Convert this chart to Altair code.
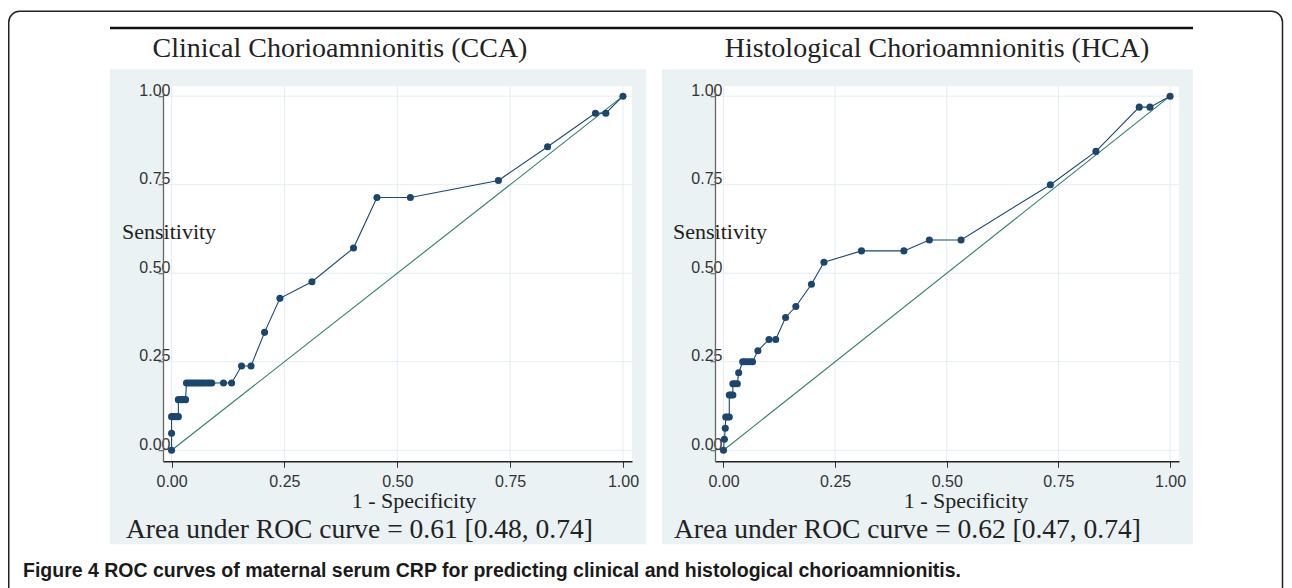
import altair as alt
import pandas as pd

# ---------------- data ----------------
ticks = [0.0, 0.25, 0.5, 0.75, 1.0]
diag = [0.0, 1.0]

cca_fpr = [0.0, 0.0, 0.0, 0.005, 0.010, 0.015, 0.015, 0.020, 0.025, 0.031,
           0.033, 0.038, 0.043, 0.048, 0.053, 0.058, 0.063, 0.068, 0.073, 0.079,
           0.084, 0.089, 0.115, 0.133, 0.155, 0.176, 0.206, 0.240, 0.311, 0.403,
           0.455, 0.529, 0.724, 0.833, 0.939, 0.962, 1.0]
cca_tpr = [0.0, 0.048, 0.095, 0.095, 0.095, 0.095, 0.143, 0.143, 0.143, 0.143,
           0.190, 0.190, 0.190, 0.190, 0.190, 0.190, 0.190, 0.190, 0.190, 0.190,
           0.190, 0.190, 0.190, 0.190, 0.238, 0.238, 0.333, 0.429, 0.476, 0.571,
           0.714, 0.714, 0.762, 0.857, 0.952, 0.952, 1.0]

hca_fpr = [0.0, 0.002, 0.004, 0.005, 0.009, 0.013, 0.013, 0.017, 0.021, 0.021,
           0.026, 0.031, 0.034, 0.043, 0.048, 0.054, 0.060, 0.065, 0.077, 0.102,
           0.117, 0.139, 0.162, 0.197, 0.225, 0.309, 0.404, 0.461, 0.532, 0.732,
           0.834, 0.931, 0.955, 1.0]
hca_tpr = [0.0, 0.031, 0.062, 0.094, 0.094, 0.094, 0.156, 0.156, 0.156, 0.188,
           0.188, 0.188, 0.219, 0.250, 0.250, 0.250, 0.250, 0.250, 0.281, 0.313,
           0.313, 0.375, 0.406, 0.469, 0.531, 0.563, 0.563, 0.594, 0.594, 0.750,
           0.844, 0.969, 0.969, 1.0]

panel_titles = ["Clinical Chorioamnionitis (CCA)", "Histological Chorioamnionitis (HCA)"]
auc_texts = ["Area under ROC curve = 0.61 [0.48, 0.74]",
             "Area under ROC curve = 0.62 [0.47, 0.74]"]
x_title = "1 - Specificity"
y_title = "Sensitivity"
caption = ("Figure 4 ROC curves of maternal serum CRP for predicting "
           "clinical and histological chorioamnionitis.")

# ---------------- style ----------------
SERIF = "Liberation Serif"
SANS = "Liberation Sans"
BG = "#EAF2F4"
GRID = "#E3EDF1"
NAVY = "#1A476F"
GREEN = "#2F7D6D"
XDOM = [-0.019, 1.02]
YDOM = [-0.031, 1.028]
H = 375

xs = alt.Scale(domain=XDOM, nice=False, zero=False)
ys = alt.Scale(domain=YDOM, nice=False, zero=False)

xaxis = alt.Axis(values=ticks, format=".2f", grid=False, title=None, zindex=1,
                 tickSize=6, tickColor="#333", tickWidth=1,
                 domainColor="#222", domainWidth=1.3,
                 labelFont=SANS, labelFontSize=16, labelColor="#333",
                 labelPadding=6, labelFlush=False, labelOverlap=False)
yaxis = alt.Axis(values=ticks, format=".2f", grid=False, title=None, zindex=1,
                 tickSize=5, tickColor="#555", tickWidth=1,
                 domainColor="#666", domainWidth=1.3,
                 labelFont=SANS, labelFontSize=16, labelColor="#333",
                 labelPadding=-12, labelOffset=-6, labelFlush=False,
                 labelOverlap=False)


def one():
    return pd.DataFrame({"k": [0]})


def txt(s, x, y, size, align="left", font=SERIF, weight="normal", color="#222"):
    return alt.Chart(one()).mark_text(
        text=s, font=font, fontSize=size, fontWeight=weight, color=color,
        align=align, baseline="alphabetic"
    ).encode(x=alt.value(x), y=alt.value(y))


def panel(fpr, tpr, title, auc, w, title_x, sens_x, auc_x, extras=()):
    roc = pd.DataFrame({"fpr": fpr, "tpr": tpr, "i": list(range(len(fpr)))})
    tk = pd.DataFrame({"t": ticks})
    dg = pd.DataFrame({"d": diag})

    bg = alt.Chart(one()).mark_rect(color=BG).encode(
        x=alt.value(-53), x2=alt.value(w + 14), y=alt.value(-17), y2=alt.value(H + 83))
    white = alt.Chart(one()).mark_rect(color="white").encode(
        x=alt.value(0), x2=alt.value(w), y=alt.value(0), y2=alt.value(H))
    gx = alt.Chart(tk).mark_rule(color=GRID, strokeWidth=1).encode(
        x=alt.X("t:Q", scale=xs, axis=xaxis), y=alt.value(0), y2=alt.value(H))
    gy = alt.Chart(tk).mark_rule(color=GRID, strokeWidth=1).encode(
        y=alt.Y("t:Q", scale=ys, axis=yaxis), x=alt.value(0), x2=alt.value(w))
    dl = alt.Chart(dg).mark_line(color=GREEN, strokeWidth=1.1).encode(
        x=alt.X("d:Q", scale=xs, axis=xaxis), y=alt.Y("d:Q", scale=ys, axis=yaxis))
    line = alt.Chart(roc).mark_line(color=NAVY, strokeWidth=1.1).encode(
        x=alt.X("fpr:Q", scale=xs, axis=xaxis), y=alt.Y("tpr:Q", scale=ys, axis=yaxis),
        order="i:Q")
    pts = alt.Chart(roc).mark_circle(color=NAVY, size=50, opacity=1).encode(
        x=alt.X("fpr:Q", scale=xs, axis=xaxis), y=alt.Y("tpr:Q", scale=ys, axis=yaxis))

    layers = [bg, white, gx, gy, dl, line, pts,
              txt(title, title_x, -29, 28, align="center"),
              txt(y_title, sens_x, 153, 22),
              txt(x_title, 251, 422, 22, align="center"),
              txt(auc, auc_x, 452, 27.5)]
    layers.extend(extras)
    return alt.layer(*layers).properties(width=w, height=H)


# outer frame: left edge at page x~9, top at y~11, right edge kept inside the window
frame = alt.Chart(one()).mark_rect(
    fill="white", fillOpacity=0, stroke="#222", strokeWidth=1.5, cornerRadius=11
).encode(x=alt.value(-154.25), x2=alt.value(1119.5), y=alt.value(-75), y2=alt.value(515))
top_line = alt.Chart(one()).mark_rule(color="#111", strokeWidth=2.6).encode(
    x=alt.value(-53), x2=alt.value(1030), y=alt.value(-58.3))
cap = txt(caption, -140, 491, 19.5, font=SANS, weight="bold", color="#1a1a1a")

left = panel(cca_fpr, cca_tpr, panel_titles[0], auc_texts[0], 469, 177, -41, -37,
             extras=[frame, top_line, cap])
right = panel(hca_fpr, hca_tpr, panel_titles[1], auc_texts[1], 464, 222, -42, -41)

chart = alt.hconcat(left, right, spacing=83, bounds="flush").properties(
    padding={"left": 0, "top": 2.25, "right": 0, "bottom": 0},
    background="white",
).configure_view(stroke=None)

chart.save("out.html", embed_options={"renderer": "svg", "actions": False})
